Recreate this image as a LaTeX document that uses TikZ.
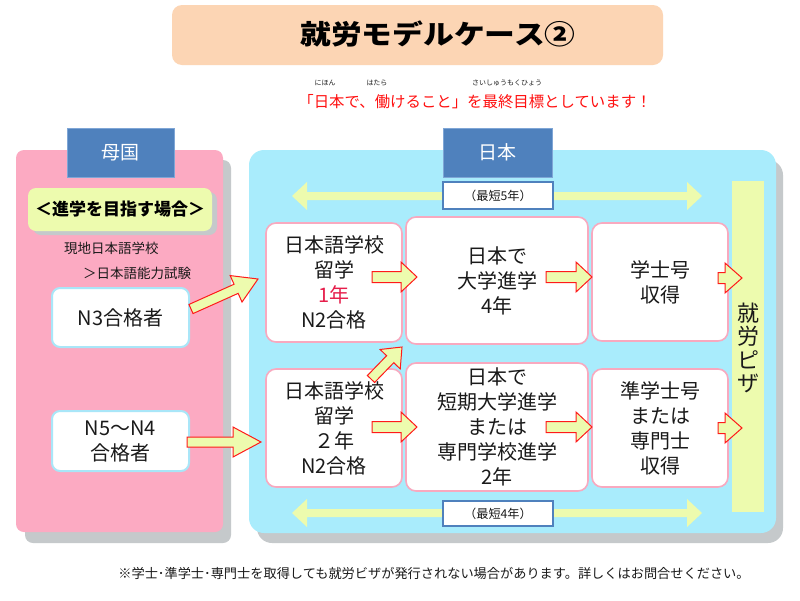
\documentclass[tikz,border=0pt]{standalone}
\usepackage{fontspec}
\usepackage{graphicx}
\setmainfont{Noto Sans CJK JP}
\usetikzlibrary{calc}
\definecolor{peach}{HTML}{FCD5B4}
\definecolor{hdrblue}{HTML}{4F81BD}
\definecolor{hdrline}{HTML}{7FA6D6}
\definecolor{pinkpanel}{HTML}{FCAAC2}
\definecolor{bluepanel}{HTML}{A9ECFC}
\definecolor{shadowgrey}{HTML}{C5C9CB}
\definecolor{lightyel}{HTML}{EDFBAE}
\definecolor{boxpink}{HTML}{F8A9BF}
\definecolor{boxblue}{HTML}{A9E6F8}
\definecolor{redline}{HTML}{FF1A1A}
\definecolor{redtxt}{HTML}{FF1010}
\definecolor{yeartxt}{HTML}{E61E4B}
\definecolor{txt}{HTML}{1A1A1A}

\tikzset{
  shadowbox/.style={fill=shadowgrey, draw=none, inner sep=0pt},
  panelbox/.style={draw=none, inner sep=0pt},
  hdrbox/.style={fill=hdrblue, draw=hdrline, line width=0.8pt, inner sep=0pt,
    text=white, font=\fontsize{19}{22}\selectfont},
  yearbox/.style={fill=white, draw=hdrblue, line width=2pt, inner sep=0pt,
    text=txt, font=\fontsize{12.2}{14}\selectfont},
  stepbox/.style={draw=boxpink, line width=1.6pt, fill=white, rounded corners=10pt,
    align=center, inner sep=0pt, text=txt, font=\fontsize{20}{25}\selectfont},
  levelbox/.style={draw=boxblue, line width=2pt, fill=white, rounded corners=8pt,
    align=center, inner sep=0pt, text=txt, font=\fontsize{20}{25}\selectfont},
  plain/.style={inner sep=0pt, text=txt},
  blockarr/.style={fill=lightyel, draw=redline, line width=1pt, line join=miter},
  dblarr/.style={fill=lightyel, draw=none},
}

% block arrow: #1 start, #2 tip, #3 shaft half width, #4 head half width, #5 head length
\newcommand\blockarrow[5]{%
  \coordinate (ba-h) at ($(#2)!#5!(#1)$);
  \filldraw[blockarr] ($(#1)!#3!90:(#2)$) -- ($(ba-h)!#3!90:(#2)$)
    -- ($(ba-h)!#4!90:(#2)$) -- (#2) -- ($(ba-h)!#4!-90:(#2)$)
    -- ($(ba-h)!#3!-90:(#2)$) -- ($(#1)!#3!-90:(#2)$) -- cycle;
}
% double arrow: #1 one tip, #2 other tip, #3 shaft half, #4 head half, #5 head length
\newcommand\doublearrow[5]{%
  \coordinate (da-h1) at ($(#1)!#5!(#2)$);
  \coordinate (da-h2) at ($(#2)!#5!(#1)$);
  \fill[dblarr] (#1) -- ($(da-h1)!#4!90:(#2)$) -- ($(da-h1)!#3!90:(#2)$)
    -- ($(da-h2)!#3!90:(#2)$) -- ($(da-h2)!#4!90:(#2)$) -- (#2)
    -- ($(da-h2)!#4!-90:(#2)$) -- ($(da-h2)!#3!-90:(#2)$)
    -- ($(da-h1)!#3!-90:(#2)$) -- ($(da-h1)!#4!-90:(#2)$) -- cycle;
}

\begin{document}
\begin{tikzpicture}[x=1pt,y=-1pt]
\useasboundingbox (0,0) rectangle (800,600);
\fill[white] (0,0) rectangle (800,600);

% ---- title ----
\node[fill=peach, rounded corners=10pt, minimum width=491, minimum height=60, inner sep=0pt] (titlebox) at (417.5,35) {};
\node[plain, text=black, font=\fontsize{27}{30}\selectfont\bfseries] (titletxt) at (438,34) {\scalebox{1.14}[1]{就労モデルケース②}};

% ---- subtitle with ruby ----
\node[plain, text=redtxt, font=\fontsize{15.4}{18}\selectfont] (subtitle) at (475,102) {「日本で、働けること」を最終目標としています！};
\node[plain, font=\fontsize{7}{8}\selectfont] (ruby1) at (325,83) {にほん};
\node[plain, font=\fontsize{7}{8}\selectfont] (ruby2) at (377,83) {はたら};
\node[plain, font=\fontsize{7}{8}\selectfont] (ruby3) at (507,83) {さいしゅうもくひょう};

% ---- panels ----
\node[shadowbox, rounded corners=8pt, minimum width=206, minimum height=383] (homeshadow) at (128,351.5) {};
\node[panelbox, fill=pinkpanel, rounded corners=8pt, minimum width=207, minimum height=382] (home) at (119.5,341) {};
\node[shadowbox, rounded corners=15pt, minimum width=526, minimum height=383] (japanshadow) at (520,351.5) {};
\node[panelbox, fill=bluepanel, rounded corners=15pt, minimum width=527, minimum height=383] (japan) at (512.5,341.5) {};

% ---- headers ----
\node[hdrbox, minimum width=107, minimum height=49] (homehdr) at (120.5,152.5) {母国};
\node[hdrbox, minimum width=109, minimum height=49] (japanhdr) at (497.5,152.5) {日本};

% ---- home side ----
\node[shadowbox, rounded corners=8pt, minimum width=184, minimum height=43] (goalshadow) at (125,213.5) {};
\node[panelbox, fill=lightyel, rounded corners=8pt, minimum width=184, minimum height=43,
  text=black, font=\fontsize{17}{20}\selectfont\bfseries] (goal) at (120,209.5) {＜進学を目指す場合＞};
\node[plain, anchor=west, font=\fontsize{13.5}{16}\selectfont] (local1) at (64,248) {現地日本語学校};
\node[plain, anchor=west, font=\fontsize{13.5}{16}\selectfont] (local2) at (83,273) {＞日本語能力試験};
\node[levelbox, minimum width=137, minimum height=59] (n3) at (120.5,317.5) {N3合格者};
\node[levelbox, minimum width=137, minimum height=60] (n5) at (120.5,441) {N5～N4\\合格者};

% ---- japan side ----
\doublearrow{292,196}{702,196}{4pt}{14pt}{15pt}
\doublearrow{292,513}{702,513}{4pt}{14pt}{15pt}
\node[yearbox, minimum width=110, minimum height=27] (five) at (498,195.5) {（最短5年）};
\node[yearbox, minimum width=110, minimum height=25] (four) at (498,513.5) {（最短4年）};

\node[fill=lightyel, inner sep=0pt, minimum width=32, minimum height=331] (visa) at (748,346.5) {};
\node[plain, align=center, font=\fontsize{22}{23.5}\selectfont] (visatxt) at (748,348) {就\\労\\ピ\\ザ};

\node[stepbox, minimum width=136, minimum height=119] (a1) at (334,282.5)
  {日本語学校\\留学\\\textcolor{yeartxt}{1年}\\N2合格};
\node[stepbox, minimum width=182, minimum height=127] (b1) at (497,280.5)
  {日本で\\大学進学\\4年};
\node[stepbox, minimum width=136, minimum height=118] (c1) at (660,282)
  {学士号\\収得};
\node[stepbox, minimum width=136, minimum height=118] (a2) at (334,428)
  {日本語学校\\留学\\２年\\N2合格};
\node[stepbox, minimum width=182, minimum height=128] (b2) at (497,427)
  {日本で\\短期大学進学\\または\\専門学校進学\\2年};
\node[stepbox, minimum width=136, minimum height=118] (c2) at (660,428)
  {準学士号\\または\\専門士\\収得};

% ---- block arrows ----
\coordinate (n3a1s) at (191,309);  \coordinate (n3a1e) at (258,279);
\coordinate (n5a2s) at (187,442);  \coordinate (n5a2e) at (261,442);
\coordinate (a1b1s) at (372,277);  \coordinate (a1b1e) at (417,277);
\coordinate (b1c1s) at (546,277);  \coordinate (b1c1e) at (592,277);
\coordinate (c1vs) at (718,278);   \coordinate (c1ve) at (742,278);
\coordinate (a2b1s) at (371,379);  \coordinate (a2b1e) at (402,347);
\coordinate (a2b2s) at (372,427);  \coordinate (a2b2e) at (417,427);
\coordinate (b2c2s) at (546,427);  \coordinate (b2c2e) at (592,427);
\coordinate (c2vs) at (718,428);   \coordinate (c2ve) at (742,428);

\blockarrow{n3a1s}{n3a1e}{5pt}{14.5pt}{24pt}
\blockarrow{n5a2s}{n5a2e}{5pt}{15pt}{28pt}
\blockarrow{a1b1s}{a1b1e}{5.5pt}{15pt}{16pt}
\blockarrow{b1c1s}{b1c1e}{5.5pt}{15pt}{16pt}
\blockarrow{c1vs}{c1ve}{5.5pt}{15pt}{17pt}
\blockarrow{a2b1s}{a2b1e}{5pt}{14pt}{17pt}
\blockarrow{a2b2s}{a2b2e}{5.5pt}{15pt}{16pt}
\blockarrow{b2c2s}{b2c2e}{5.5pt}{15pt}{16pt}
\blockarrow{c2vs}{c2ve}{5.5pt}{15pt}{17pt}

% ---- footer ----
\node[plain, font=\fontsize{13.2}{15}\selectfont] (footer) at (434,573)
  {※学士･準学士･専門士を取得しても就労ビザが発行されない場合があります。詳しくはお問合せください。};
\end{tikzpicture}
\end{document}
